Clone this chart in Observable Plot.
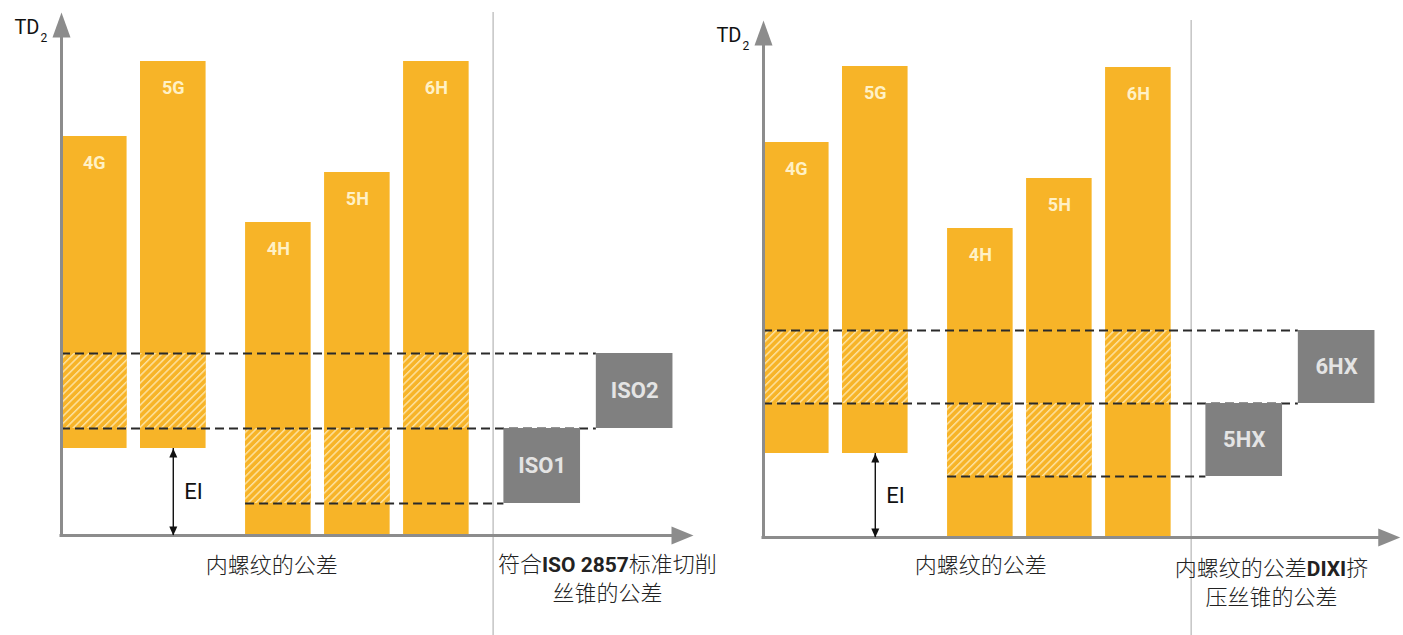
<!DOCTYPE html>
<html><head><meta charset="utf-8">
<script src="https://cdn.jsdelivr.net/npm/d3@7"></script>
<script src="https://cdn.jsdelivr.net/npm/@observablehq/plot@0.6"></script>
<style>
body{margin:0;background:#fff;}
#wrap{display:flex;width:1403px;height:635px;overflow:hidden;background:#fff;}
#wrap svg{display:block;}
</style></head><body><div id="wrap"></div>
<script>
// ---------------- data ----------------
const tapClasses = ["4G", "5G", "4H", "5H", "6H"];
const classGroup = ["G", "G", "H", "H", "H"];

// left panel: taps according to ISO 2857
const leftBarLow  = [8.7, 8.7, 0, 0, 0];
const leftBarHigh = [39.9, 47.4, 31.3, 36.3, 47.4];
const leftTaps    = ["ISO1", "ISO2"];
const leftTapLow  = [3.2, 10.7];
const leftTapHigh = [10.7, 18.2];
const leftTapFor  = ["ISO2", "ISO2", "ISO1", "ISO1", "ISO2"];
const leftCaption = ["符合ISO 2857标准切削", "丝锥的公差"];

// right panel: DIXI forming taps
const rightBarLow  = [8.4, 8.4, 0, 0, 0];
const rightBarHigh = [39.5, 47.1, 30.9, 35.9, 47.0];
const rightTaps    = ["5HX", "6HX"];
const rightTapLow  = [6.1, 13.4];
const rightTapHigh = [13.4, 20.7];
const rightTapFor  = ["6HX", "6HX", "5HX", "5HX", "6HX"];
const rightCaption = ["内螺纹的公差DIXI挤", "压丝锥的公差"];

const threadCaption = "内螺纹的公差";
const yAxisLabel = "TD";
const yAxisSub = "2";
const eiLabel = "EI";

// ---------------- styling / layout ----------------
const ORANGE = "#F7B428";
const HATCH_LINE = "#FDE2A0";
const BOX_GREY = "#808080";
const AXIS_GREY = "#8C8C8C";
const CJK = "'Noto Sans CJK SC', 'Noto Sans', sans-serif";
const NARROW = "Roboto, 'Liberation Sans', sans-serif";

const groupGap = 0.33, barW = 0.83;
const boxStart = 5.6, boxStep = 1.17, boxW = 0.97;

const headUp = {draw(c){c.moveTo(0,0);c.lineTo(9,25);c.lineTo(-9,25);c.closePath();}};
const headRight = {draw(c){c.moveTo(0,0);c.lineTo(-22,9);c.lineTo(-22,-9);c.closePath();}};
const smallUp = {draw(c){c.moveTo(0,0);c.lineTo(4,9);c.lineTo(-4,9);c.closePath();}};
const smallDown = {draw(c){c.moveTo(0,0);c.lineTo(4,-9);c.lineTo(-4,-9);c.closePath();}};

function styleLatin(svg) {
  d3.select(svg).selectAll("text").each(function () {
    const t = this.textContent;
    if (!/[\u4e00-\u9fff]/.test(t) || !/[A-Za-z]/.test(t)) return;
    const parts = t.split(/([A-Za-z0-9][A-Za-z0-9 ]*[A-Za-z0-9])/).filter(s => s);
    this.textContent = "";
    for (const p of parts) {
      const ts = d3.select(this).append("tspan").text(p);
      if (/[A-Za-z0-9]/.test(p)) ts.attr("font-family", NARROW).attr("font-weight", "bold").attr("font-size", 21);
    }
  });
}

function makePanel(cfg) {
  const {width, marginLeft, marginRight, marginTop, marginBottom, yMax, xTip,
    dividerX, capX, capDy, threadX, threadDy, barLow, barHigh, taps, tapLow, tapHigh,
    tapFor, caption, patternId} = cfg;
  const slot = i => (classGroup[i] === "G" ? i : i + groupGap);
  const bars = tapClasses.map((c, i) => ({cls: c, x1: slot(i), x2: slot(i) + barW, y1: barLow[i], y2: barHigh[i], xc: slot(i) + barW / 2}));
  const boxes = taps.map((t, k) => ({tap: t, x1: boxStart + k * boxStep, x2: boxStart + k * boxStep + boxW, y1: tapLow[k], y2: tapHigh[k], xc: boxStart + k * boxStep + boxW / 2, yc: (tapLow[k] + tapHigh[k]) / 2}));
  const hatches = bars.map((b, i) => {
    const k = taps.indexOf(tapFor[i]);
    return {x1: b.x1, x2: b.x2, y1: Math.max(b.y1, tapLow[k]), y2: Math.min(b.y2, tapHigh[k])};
  });
  const levelVals = Array.from(new Set([...tapLow, ...tapHigh]));
  const levels = levelVals.map(v => ({
    v,
    x1: d3.min(bars.filter(b => b.y1 <= v && v <= b.y2), b => b.x1),
    x2: d3.max(boxes.filter(b => b.y1 === v || b.y2 === v), b => b.x1)
  }));
  const ei = bars[1]; // EI measured under 5G
  const origin = [{x: 0, y: 0}];
  const top = [{x: 0, y: yMax}];
  const right = [{x: xTip, y: 0}];

  const defs = () => {
    const d = d3.create("svg:defs");
    const p = d.append("pattern").attr("id", patternId).attr("patternUnits", "userSpaceOnUse")
      .attr("width", 5.2).attr("height", 5.2).attr("patternTransform", "rotate(45)");
    p.append("rect").attr("width", 5.2).attr("height", 5.2).attr("fill", ORANGE);
    p.append("rect").attr("width", 1.5).attr("height", 5.2).attr("fill", HATCH_LINE);
    return d.node();
  };
  const divider = (index, scales, values, dims) => {
    const x = scales.x(dividerX);
    return d3.create("svg:line").attr("x1", x).attr("x2", x)
      .attr("y1", dims.marginTop).attr("y2", dims.height)
      .attr("stroke", "#C4C4C4").attr("stroke-width", 1.5).node();
  };

  const svg = Plot.plot({
    width, height: 635, marginLeft, marginRight, marginTop, marginBottom,
    x: {domain: [0, 8], axis: null},
    y: {domain: [0, yMax], axis: null},
    style: {background: "none", overflow: "visible"},
    marks: [
      defs,
      divider,
      Plot.rect(bars, {x1: "x1", x2: "x2", y1: "y1", y2: "y2", fill: ORANGE}),
      Plot.rect(hatches, {x1: "x1", x2: "x2", y1: "y1", y2: "y2", fill: `url(#${patternId})`}),
      Plot.ruleY(levels, {y: "v", x1: "x1", x2: "x2", stroke: "#2a2a2a", strokeWidth: 2, strokeDasharray: "9,5"}),
      Plot.rect(boxes, {x1: "x1", x2: "x2", y1: "y1", y2: "y2", fill: BOX_GREY}),
      Plot.text(boxes, {x: "xc", y: "yc", text: "tap", fill: "#E4E4E4", fontSize: 22, fontWeight: "bold", fontFamily: NARROW}),
      Plot.text(bars, {x: "xc", y: "y2", text: "cls", dy: 27, fill: "#FFF1C6", fontSize: 18, fontWeight: "bold", fontFamily: NARROW}),
      // axes
      Plot.ruleY(origin, {y: "y", x1: 0, x2: xTip - 1 / 79 * 10, stroke: AXIS_GREY, strokeWidth: 3, strokeLinecap: "square"}),
      Plot.ruleX(origin, {x: "x", y1: 0, y2: yMax - 1.5, stroke: AXIS_GREY, strokeWidth: 3, strokeLinecap: "square"}),
      Plot.dot(top, {x: "x", y: "y", symbol: headUp, fill: AXIS_GREY, stroke: "none"}),
      Plot.dot(right, {x: "x", y: "y", symbol: headRight, fill: AXIS_GREY, stroke: "none"}),
      Plot.text(top, {x: "x", y: "y", text: () => yAxisLabel, textAnchor: "end", dx: -22, dy: 15, fontSize: 20, fontFamily: NARROW, fill: "#111"}),
      Plot.text(top, {x: "x", y: "y", text: () => yAxisSub, textAnchor: "start", dx: -21, dy: 26, fontSize: 12, fontFamily: NARROW, fill: "#111"}),
      // EI arrow
      Plot.ruleX([ei], {x: "xc", y1: 0, y2: "y1", stroke: "#111", strokeWidth: 1.4}),
      Plot.dot([ei], {x: "xc", y: "y1", symbol: smallUp, fill: "#111", stroke: "none"}),
      Plot.dot([ei], {x: "xc", y: () => 0, symbol: smallDown, fill: "#111", stroke: "none"}),
      Plot.text([ei], {x: "xc", y: d => d.y1 / 2, text: () => eiLabel, textAnchor: "start", dx: 11, fontSize: 22, fontFamily: NARROW, fill: "#111"}),
      // captions
      Plot.text([threadCaption], {x: () => threadX, frameAnchor: "bottom", text: d => d, dy: threadDy, fontSize: 22, fontWeight: 300, fontFamily: CJK, fill: "#222"}),
      Plot.text([caption[0]], {x: () => capX, frameAnchor: "bottom", text: d => d, dy: capDy, fontSize: 22, fontWeight: 300, fontFamily: CJK, fill: "#222"}),
      Plot.text([caption[1]], {x: () => capX, frameAnchor: "bottom", text: d => d, dy: capDy + 29, fontSize: 22, fontWeight: 300, fontFamily: CJK, fill: "#222"})
    ]
  });
  styleLatin(svg);
  return svg;
}

const wrap = document.getElementById("wrap");
const leftSvg = makePanel({
  width: 701, marginLeft: 61, marginRight: 8, marginTop: 12, marginBottom: 100, yMax: 52.3, xTip: 8.0,
  dividerX: 5.47, capX: 6.91, capDy: 36, threadX: 2.66, threadDy: 37,
  barLow: leftBarLow, barHigh: leftBarHigh, taps: leftTaps, tapLow: leftTapLow, tapHigh: leftTapHigh,
  tapFor: leftTapFor, caption: leftCaption, patternId: "hatch-left"
});
leftSvg.style.position = "relative";
leftSvg.style.zIndex = "1";
wrap.appendChild(leftSvg);
wrap.appendChild(makePanel({
  width: 702, marginLeft: 62, marginRight: 8, marginTop: 20, marginBottom: 98, yMax: 51.7, xTip: 8.06,
  dividerX: 5.42, capX: 6.43, capDy: 38, threadX: 2.75, threadDy: 35,
  barLow: rightBarLow, barHigh: rightBarHigh, taps: rightTaps, tapLow: rightTapLow, tapHigh: rightTapHigh,
  tapFor: rightTapFor, caption: rightCaption, patternId: "hatch-right"
}));
</script></body></html>
